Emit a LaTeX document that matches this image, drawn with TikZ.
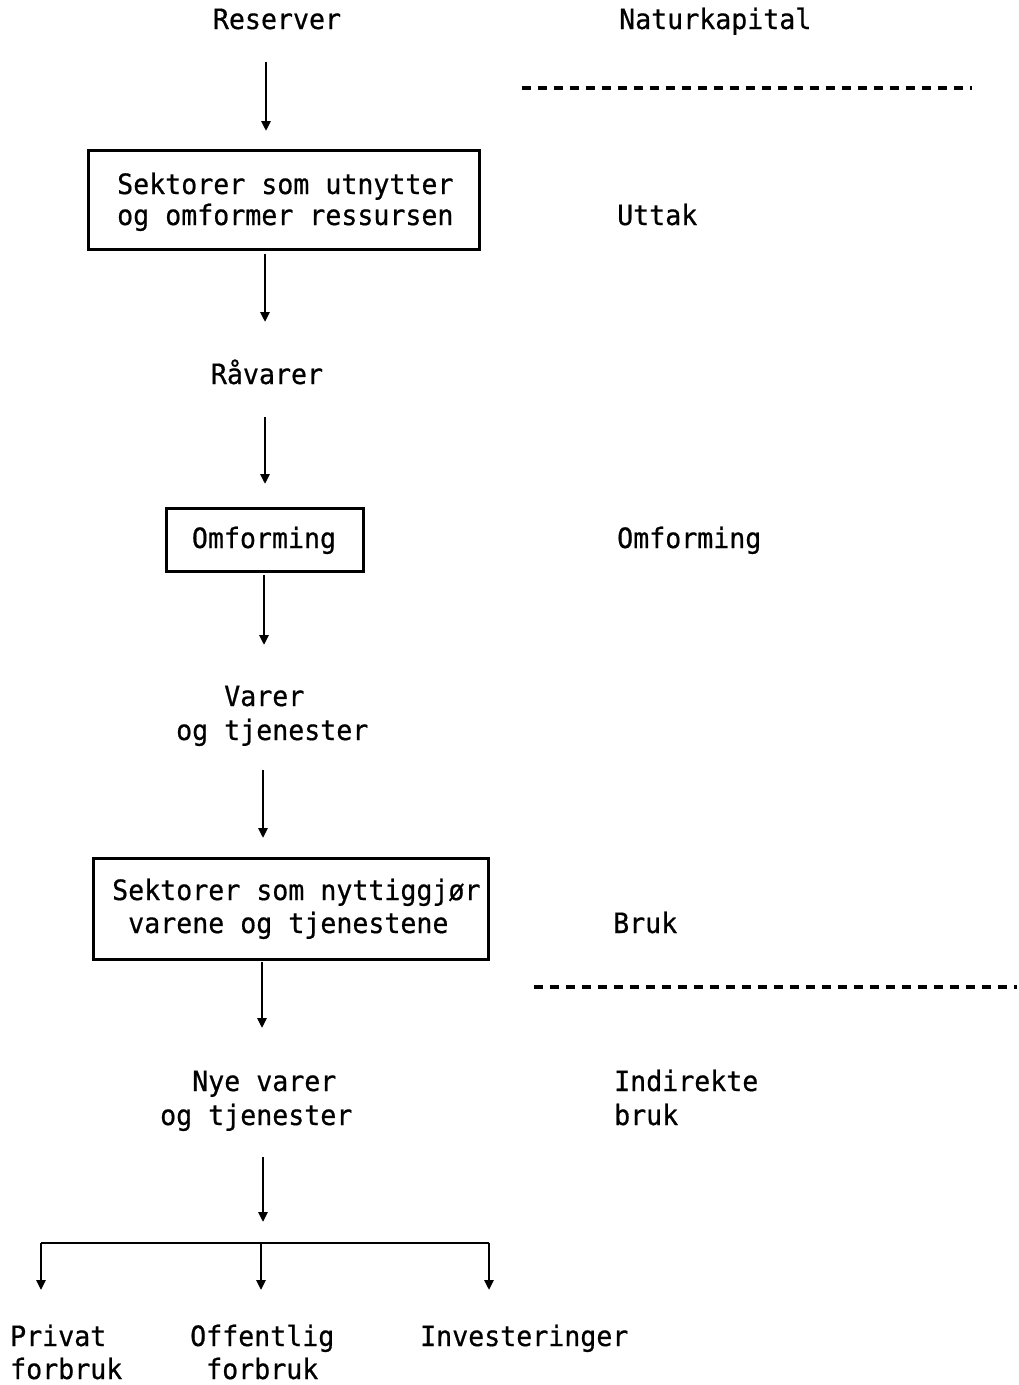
\documentclass[tikz,border=0pt]{standalone}
\usepackage{fontspec}
\usetikzlibrary{arrows.meta}
\newfontfamily\typewr[FakeStretch=0.95,FakeBold=0.6]{DejaVu Sans Mono}
\begin{document}
\begin{tikzpicture}[x=1pt,y=-1pt,
  lbl/.style={font=\typewr\fontsize{28}{31}\selectfont, inner sep=0pt, anchor=base west},
  lblc/.style={lbl, anchor=base},
  flow/.style={line width=2.7pt, -{Triangle[length=10pt,width=9pt]}},
  rail/.style={line width=2.7pt},
  boxst/.style={draw, line width=2.8pt, inner sep=0pt, anchor=north west},
  divider/.style={line width=3.5pt, dash pattern=on 9pt off 7pt}]
\useasboundingbox (0,0) rectangle (1019,1385);

% headings
\node[lblc] (res) at (277,29) {Reserver};
\node[lbl] (natur) at (619,29) {Naturkapital};
\draw[divider] (522,88) -- (972,88);

% extraction
\node[boxst, minimum width=391pt, minimum height=99pt] (b1) at (87,149) {};
\node[lbl] (b1a) at (117,194) {Sektorer som utnytter};
\node[lbl] (b1b) at (117,225) {og omformer ressursen};
\node[lbl] (uttak) at (617,225) {Uttak};

\node[lblc] (ravarer) at (267,384) {Råvarer};

% transformation
\node[boxst, minimum width=197pt, minimum height=63pt] (b2) at (165,507) {};
\node[lblc] (b2a) at (264,548) {Omforming};
\node[lbl] (omf) at (617,548) {Omforming};

\node[lbl] (var1) at (176,706) {\phantom{og }Varer};
\node[lbl] (var2) at (176,740) {og tjenester};

% use
\node[boxst, minimum width=395pt, minimum height=101pt] (b3) at (92,857) {};
\node[lbl] (b3a) at (112,900) {Sektorer som nyttiggjør};
\node[lbl] (b3b) at (112,933) {\phantom{S}varene og tjenestene};
\node[lbl] (bruk) at (613,933) {Bruk};
\draw[divider] (534,987) -- (1017,987);

\node[lbl] (nye1) at (160,1091) {\phantom{og}Nye varer};
\node[lbl] (nye2) at (160,1125) {og tjenester};
\node[lbl] (ind1) at (614,1091) {Indirekte};
\node[lbl] (ind2) at (614,1125) {bruk};

% final demand
\node[lbl] (priv1) at (10,1346) {Privat};
\node[lbl] (priv2) at (10,1379) {forbruk};
\node[lbl] (off1) at (190,1346) {Offentlig};
\node[lbl] (off2) at (190,1379) {\phantom{O}forbruk};
\node[lbl] (inv) at (420,1346) {Investeringer};

% flow arrows
\coordinate (a1s) at (266,62);   \coordinate (a1e) at (266,131);
\coordinate (a2s) at (265,254);  \coordinate (a2e) at (265,322);
\coordinate (a3s) at (265,417);  \coordinate (a3e) at (265,484);
\coordinate (a4s) at (264,575);  \coordinate (a4e) at (264,645);
\coordinate (a5s) at (263,770);  \coordinate (a5e) at (263,838);
\coordinate (a6s) at (262,962);  \coordinate (a6e) at (262,1028);
\coordinate (a7s) at (263,1157); \coordinate (a7e) at (263,1222);
\draw[flow] (a1s) -- (a1e);
\draw[flow] (a2s) -- (a2e);
\draw[flow] (a3s) -- (a3e);
\draw[flow] (a4s) -- (a4e);
\draw[flow] (a5s) -- (a5e);
\draw[flow] (a6s) -- (a6e);
\draw[flow] (a7s) -- (a7e);

% split into the three uses
\coordinate (sl) at (41,1243);  \coordinate (sm) at (261,1243); \coordinate (sr) at (489,1243);
\coordinate (tl) at (41,1290);  \coordinate (tm) at (261,1290); \coordinate (tr) at (489,1290);
\draw[rail] (sl) -- (sr);
\draw[flow] (sl) -- (tl);
\draw[flow] (sm) -- (tm);
\draw[flow] (sr) -- (tr);
\end{tikzpicture}
\end{document}
